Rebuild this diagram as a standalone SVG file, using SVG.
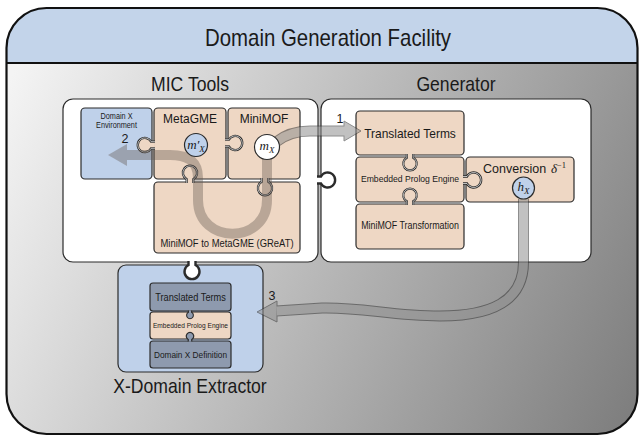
<svg xmlns="http://www.w3.org/2000/svg" width="640" height="437" viewBox="0 0 640 437">
<defs>
<linearGradient id="bg" gradientUnits="userSpaceOnUse" x1="0" y1="100" x2="640" y2="400">
<stop offset="0" stop-color="#f4f4f4"/><stop offset="1" stop-color="#7e7e7e"/>
</linearGradient>
<clipPath id="frameclip"><rect x="6.5" y="8" width="631" height="426" rx="40"/></clipPath>
<path id="kn" d="M-1,-3.5 L3,-3.5 A7.5,7.5 0 1 1 3,3.5 L-1,3.5"/>
</defs>
<style>
.box{stroke:#2b2b2b;stroke-width:1.2}
.peach{fill:#eed7c4}
.blue{fill:#bfd1ea}
.slate{fill:#8e9aae}
.white{fill:#fff}
.t{font-family:"Liberation Sans",Arial,sans-serif;fill:#1a1a1a;text-anchor:middle}
.m{font-family:"Liberation Serif","Times New Roman",serif;font-style:italic;fill:#1a1a1a;text-anchor:middle}
.k{stroke:#2b2b2b;stroke-width:2.4;vector-effect:non-scaling-stroke}
.kw{fill:none;stroke:#fff;stroke-width:0.7;vector-effect:non-scaling-stroke}
.band{fill:none;stroke-linejoin:round}
</style>

<g id="facility">
<rect x="6.5" y="8" width="631" height="426" rx="40" fill="url(#bg)"/>
<rect x="0" y="0" width="640" height="63" fill="#c3d4ea" clip-path="url(#frameclip)"/>
<line x1="6.5" y1="63" x2="637.5" y2="63" stroke="#111" stroke-width="1.8"/>
<rect x="6.5" y="8" width="631" height="426" rx="40" fill="none" stroke="#111" stroke-width="2.2"/>
<text class="t" transform="translate(328,46) scale(0.88,1)" font-size="23.2">Domain Generation Facility</text>
</g>

<g id="mic-tools">
<rect x="63" y="99" width="255" height="163" rx="10" class="white box"/>
<text class="t" transform="translate(190,91) scale(0.88,1)" font-size="20">MIC Tools</text>
</g>
<g id="generator">
<rect x="321" y="99" width="270" height="163" rx="10" class="white box"/>
<text class="t" transform="translate(456,91) scale(0.88,1)" font-size="20">Generator</text>
</g>
<g id="x-domain-extractor">
<rect x="118" y="265" width="145" height="107" rx="8" class="blue box"/>
<text class="t" transform="translate(190,393) scale(0.88,1)" font-size="20">X-Domain Extractor</text>
</g>

<g id="domain-x-environment">
<rect x="81" y="108" width="71" height="71" rx="4" class="blue box"/>
<text class="t" transform="translate(116.5,118.5) scale(0.88,1)" font-size="8.3" fill="#333">Domain X</text>
<text class="t" transform="translate(116.5,128) scale(0.88,1)" font-size="8.3" fill="#333">Environment</text>
</g>
<g id="metagme">
<rect x="154" y="108" width="72" height="71" rx="4" class="peach box"/>
<text class="t" transform="translate(190,123) scale(0.88,1)" font-size="13.6">MetaGME</text>
</g>
<g id="minimof">
<rect x="228" y="108" width="72" height="71" rx="4" class="peach box"/>
<text class="t" transform="translate(264,123) scale(0.88,1)" font-size="13.6">MiniMOF</text>
</g>
<g id="great">
<rect x="154" y="182" width="146" height="71" rx="4" class="peach box"/>
<text class="t" transform="translate(227,247) scale(0.88,1)" font-size="10.7">MiniMOF to MetaGME (GReAT)</text>
</g>

<g id="gen-translated-terms">
<rect x="356" y="111" width="108" height="44" rx="4" class="peach box"/>
<text class="t" transform="translate(410,138) scale(0.88,1)" font-size="13.6">Translated Terms</text>
</g>
<g id="gen-embedded-prolog">
<rect x="356" y="157" width="108" height="45" rx="4" class="peach box"/>
</g>
<g id="gen-minimof-transformation">
<rect x="356" y="204" width="108" height="45" rx="4" class="peach box"/>
<text class="t" transform="translate(410,229) scale(0.88,1)" font-size="10.1">MiniMOF Transformation</text>
</g>
<g id="conversion">
<rect x="466" y="157" width="108" height="45" rx="4" class="peach box"/>
<text x="483" y="173" font-family="Liberation Sans,Arial,sans-serif" font-size="12.5" fill="#1a1a1a">Conversion</text>
<text x="551" y="173" class="m" font-size="13" style="text-anchor:start">δ<tspan font-style="normal" font-size="8.5" dy="-5">−1</tspan></text>
</g>

<g id="xd-translated-terms">
<rect x="150" y="283" width="81" height="28" rx="3" class="slate box"/>
<text class="t" transform="translate(190.5,301) scale(0.88,1)" font-size="10.5">Translated Terms</text>
</g>
<g id="xd-embedded-prolog">
<rect x="150" y="312" width="81" height="27" rx="3" class="peach box"/>
</g>
<g id="xd-domain-x-definition">
<rect x="150" y="341" width="81" height="27" rx="3" class="slate box"/>
<text class="t" transform="translate(190.5,358) scale(0.88,1)" font-size="9.4">Domain X Definition</text>
</g>

<g id="knobs">
<use href="#kn" transform="translate(318,180)" fill="#fff" class="k"/>
<use href="#kn" transform="translate(192,262) rotate(90)" fill="#fff" class="k"/>
<use href="#kn" transform="translate(154,145) rotate(180) scale(0.95)" class="peach k"/>
<use href="#kn" transform="translate(154,145) rotate(180) scale(0.95)" class="kw"/>
<use href="#kn" transform="translate(226,143) scale(0.95)" class="peach k"/>
<use href="#kn" transform="translate(226,143) scale(0.95)" class="kw"/>
<use href="#kn" transform="translate(190,182) rotate(-90) scale(0.95)" class="peach k"/>
<use href="#kn" transform="translate(190,182) rotate(-90) scale(0.95)" class="kw"/>
<use href="#kn" transform="translate(265,179) rotate(90) scale(0.95)" class="peach k"/>
<use href="#kn" transform="translate(265,179) rotate(90) scale(0.95)" class="kw"/>
<use href="#kn" transform="translate(410,155) rotate(90) scale(0.9)" class="peach k"/>
<use href="#kn" transform="translate(410,155) rotate(90) scale(0.9)" class="kw"/>
<use href="#kn" transform="translate(410,204) rotate(-90) scale(0.9)" class="peach k"/>
<use href="#kn" transform="translate(410,204) rotate(-90) scale(0.9)" class="kw"/>
<use href="#kn" transform="translate(464,180)" class="peach k"/>
<use href="#kn" transform="translate(464,180)" class="kw"/>
<use href="#kn" transform="translate(190,311) rotate(90) scale(0.45)" class="slate k"/>
<use href="#kn" transform="translate(190,341) rotate(-90) scale(0.5)" class="slate k"/>
</g>

<g id="box-labels">
<text class="t" transform="translate(410,182) scale(0.88,1)" font-size="9.8">Embedded Prolog Engine</text>
<text class="t" transform="translate(190.5,327.5) scale(0.88,1)" font-size="7.5">Embedded Prolog Engine</text>
</g>

<g id="connectors">
<g id="arrow-1" opacity="0.55">
<path class="band" d="M276,142 C286,134 296,131 310,131 L345,131" stroke="#333" stroke-width="11"/>
<polygon points="344,121 361,131 344,141" fill="#8f8f8f" stroke="#333" stroke-width="1"/>
<path class="band" d="M276,142 C286,134 296,131 310,131 L345.5,131" stroke="#8f8f8f" stroke-width="9"/>
</g>
<text x="340" y="123" class="t" font-size="12.5">1</text>
<g id="arrow-2" opacity="0.38">
<path class="band" d="M267,158 L267,200 C267,245 198,245 198,200 L198,178 C198,160 186,155 170,155 L126,155" stroke="#635850" stroke-width="10"/>
<polygon points="127,144 108,155 127,166" fill="#635850"/>
</g>
<text x="125" y="143" class="t" font-size="12.5">2</text>
<g id="arrow-3" opacity="0.55">
<path class="band" d="M523.5,199 L523.5,262 C523.5,302 490,316 440,316 C392,316 362,307 322,308 L276,311" stroke="#333" stroke-width="11"/>
<polygon points="277,301 257,312 277,322" fill="#8f8f8f" stroke="#333" stroke-width="1"/>
<path class="band" d="M523.5,199 L523.5,262 C523.5,302 490,316 440,316 C392,316 362,307 322,308 L276.5,311" stroke="#8f8f8f" stroke-width="9"/>
</g>
<text x="272" y="300" class="t" font-size="12.5">3</text>
</g>

<g id="m-x-prime">
<circle cx="196" cy="145" r="11.5" class="blue box"/>
<text x="196" y="149" class="m" font-size="13">m′<tspan font-size="9" dy="3">X</tspan></text>
</g>
<g id="m-x">
<circle cx="267" cy="147" r="12.5" class="white box"/>
<text x="267" y="150" class="m" font-size="13">m<tspan font-size="9" dy="3">X</tspan></text>
</g>
<g id="h-x">
<circle cx="523.5" cy="188" r="11" class="blue box"/>
<text x="523.5" y="191" class="m" font-size="13">h<tspan font-size="9" dy="3">X</tspan></text>
</g>
</svg>
